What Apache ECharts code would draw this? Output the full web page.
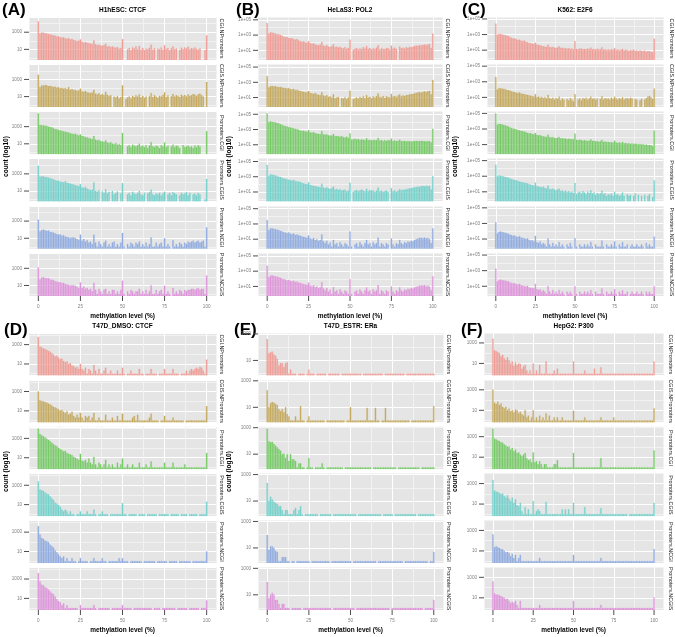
<!DOCTYPE html>
<html><head><meta charset="utf-8">
<script src="https://cdn.jsdelivr.net/npm/echarts@6/dist/echarts.min.js"></script>
<style>html,body{margin:0;padding:0;background:#fff}#c{width:675px;height:637px}</style>
</head><body><div id="c"></div>
<script>
// ---------- tick labels ----------
const xTickValues = [0, 25, 50, 75, 100];
const facetNames = ['CGI.NPromoters', 'CGIS.NPromoters', 'Promoters.CGI', 'Promoters.CGIS', 'Promoters.NCGI', 'Promoters.NCGIS'];
const panelTags = ['(A)', '(B)', '(C)', '(D)', '(E)', '(F)'];
const panelTitles = ['H1hESC: CTCF', 'HeLaS3: POL2', 'K562: E2F6', 'T47D_DMSO: CTCF', 'T47D_ESTR: ERa', 'HepG2: P300'];
const xTitle = 'methylation level (%)';
const yTitle = 'count (log10)';

// ---------- counts per methylation bin 0..100 ----------
const h1esc_CGI_NPromoters = [18000,
 700, 900, 850, 800, 650, 600, 550, 480, 420, 380,
 300, 330, 260, 220, 250, 180, 170, 200, 140, 160,
 120, 110, 90, 100, 140, 75, 60, 70, 55, 50,
 45, 40, 110, 38, 30, 35, 28, 26, 30, 45,
 20, 24, 18, 22, 16, 15, 18, 12, 14, 150,
 0, 0, 10, 14, 8, 16, 12, 22, 10, 25,
 9, 14, 8, 12, 10, 15, 35, 9, 13, 0,
 12, 10, 16, 9, 30, 11, 14, 8, 13, 22,
 10, 12, 0, 9, 15, 10, 17, 12, 20, 10,
 14, 12, 16, 11, 9, 13, 0, 0, 8, 400];
const h1esc_CGIS_NPromoters = [3500,
 120, 200, 180, 220, 190, 160, 170, 150, 130, 140,
 110, 120, 90, 100, 80, 95, 70, 120, 60, 75,
 55, 60, 45, 50, 80, 40, 35, 45, 30, 28,
 25, 30, 60, 22, 18, 25, 15, 20, 14, 35,
 16, 12, 14, 0, 10, 8, 12, 6, 9, 200,
 0, 5, 8, 10, 6, 12, 9, 14, 10, 18,
 8, 12, 7, 10, 0, 11, 25, 9, 14, 10,
 7, 12, 10, 15, 30, 9, 13, 0, 11, 20,
 10, 14, 12, 9, 16, 11, 15, 10, 18, 12,
 14, 20, 16, 12, 18, 22, 14, 10, 0, 500];
const h1esc_Promoters_CGI = [35000,
 1600, 1500, 1400, 1300, 1200, 1000, 900, 800, 650, 500,
 480, 400, 350, 320, 270, 250, 230, 200, 170, 150,
 130, 150, 110, 90, 120, 80, 70, 60, 55, 45,
 40, 35, 80, 30, 25, 28, 20, 18, 16, 25,
 14, 12, 15, 10, 9, 12, 8, 9, 7, 180,
 0, 0, 5, 7, 4, 8, 6, 5, 7, 10,
 5, 6, 4, 7, 3, 6, 15, 5, 4, 6,
 5, 3, 7, 5, 14, 4, 6, 0, 5, 8,
 4, 6, 5, 3, 0, 7, 4, 5, 6, 4,
 5, 3, 6, 4, 7, 5, 0, 0, 0, 300];
const h1esc_Promoters_CGIS = [9000,
 450, 500, 480, 420, 400, 350, 300, 260, 220, 180,
 150, 160, 120, 110, 100, 130, 90, 80, 70, 60,
 55, 45, 40, 35, 60, 25, 22, 30, 18, 15,
 12, 14, 100, 10, 8, 12, 0, 9, 6, 15,
 5, 8, 0, 10, 4, 6, 9, 0, 5, 80,
 0, 0, 4, 6, 3, 8, 5, 4, 6, 10,
 4, 3, 6, 0, 5, 7, 14, 4, 3, 5,
 4, 6, 3, 5, 8, 0, 4, 6, 3, 7,
 5, 4, 0, 3, 6, 4, 5, 7, 3, 6,
 0, 4, 5, 3, 6, 4, 0, 0, 1, 250];
const h1esc_Promoters_NCGI = [1400,
 60, 90, 100, 85, 70, 80, 55, 50, 45, 35,
 30, 25, 28, 20, 22, 15, 14, 12, 10, 12,
 12, 10, 8, 6, 25, 5, 8, 4, 6, 3,
 4, 2, 25, 3, 1, 4, 2, 1, 3, 5,
 1, 2, 1, 3, 4, 1, 2, 1, 3, 40,
 1, 0, 2, 1, 3, 2, 1, 3, 2, 4,
 1, 2, 1, 3, 1, 2, 12, 1, 1, 3,
 1, 2, 3, 1, 10, 1, 2, 1, 0, 6,
 1, 2, 1, 3, 2, 1, 3, 2, 4, 3,
 4, 5, 3, 4, 5, 3, 4, 5, 1, 180];
const h1esc_Promoters_NCGIS = [1200,
 50, 80, 90, 75, 65, 70, 50, 45, 40, 30,
 28, 22, 25, 18, 20, 14, 13, 11, 9, 11,
 10, 9, 7, 5, 22, 5, 7, 4, 5, 3,
 4, 2, 20, 3, 1, 4, 2, 1, 3, 4,
 1, 2, 1, 3, 3, 1, 2, 1, 3, 35,
 1, 0, 2, 1, 3, 2, 1, 2, 2, 4,
 1, 2, 1, 3, 1, 2, 10, 1, 1, 3,
 1, 2, 3, 1, 9, 1, 2, 1, 0, 5,
 1, 2, 1, 3, 2, 1, 3, 2, 3, 3,
 4, 4, 3, 4, 5, 3, 4, 4, 1, 140];

const helas3_CGI_NPromoters = [35000,
 1500, 2200, 2000, 1800, 1500, 1300, 1200, 1000, 800, 600,
 500, 550, 400, 350, 380, 280, 250, 300, 200, 150,
 130, 140, 110, 100, 160, 85, 70, 80, 60, 50,
 45, 55, 120, 40, 35, 45, 30, 28, 35, 60,
 25, 30, 22, 28, 20, 18, 25, 15, 20, 250,
 0, 12, 15, 20, 12, 18, 14, 25, 16, 35,
 15, 20, 12, 18, 14, 22, 45, 12, 18, 15,
 14, 18, 20, 12, 40, 16, 22, 15, 0, 30,
 18, 22, 16, 25, 20, 28, 24, 30, 35, 40,
 38, 45, 42, 50, 55, 48, 60, 65, 20, 1500];
const helas3_CGIS_NPromoters = [6000,
 200, 300, 320, 280, 300, 250, 230, 240, 200, 180,
 160, 150, 170, 120, 110, 130, 90, 100, 80, 70,
 60, 55, 45, 50, 70, 40, 35, 30, 40, 25,
 22, 20, 50, 18, 15, 20, 12, 14, 10, 25,
 8, 10, 12, 0, 9, 7, 11, 6, 10, 80,
 0, 6, 8, 10, 7, 12, 9, 14, 8, 20,
 10, 12, 8, 14, 10, 15, 35, 12, 10, 16,
 9, 14, 12, 10, 30, 13, 16, 11, 18, 25,
 14, 18, 16, 20, 22, 25, 28, 30, 35, 40,
 45, 50, 42, 55, 60, 50, 65, 70, 25, 2000];
const helas3_Promoters_CGI = [130000,
 9000, 11000, 10000, 9000, 8000, 7000, 6000, 5000, 4000, 3000,
 2600, 2400, 2000, 1800, 1600, 1400, 1200, 1100, 900, 700,
 650, 700, 550, 500, 800, 420, 380, 450, 320, 280,
 260, 240, 600, 220, 200, 230, 170, 160, 150, 250,
 130, 140, 120, 110, 130, 100, 90, 110, 80, 300,
 45, 50, 60, 45, 55, 40, 50, 45, 38, 70,
 40, 45, 35, 42, 38, 40, 80, 35, 40, 30,
 38, 32, 40, 35, 60, 30, 35, 28, 32, 45,
 30, 28, 32, 26, 30, 28, 25, 30, 28, 32,
 30, 28, 32, 30, 28, 26, 30, 28, 20, 1200];
const helas3_Promoters_CGIS = [35000,
 1200, 2000, 1800, 1600, 1400, 1200, 1000, 900, 700, 600,
 500, 450, 400, 350, 300, 380, 260, 240, 220, 200,
 150, 130, 110, 100, 180, 80, 70, 60, 55, 50,
 45, 40, 120, 35, 30, 40, 28, 25, 30, 50,
 20, 25, 18, 22, 15, 18, 20, 12, 15, 160,
 0, 10, 14, 18, 12, 16, 20, 14, 12, 25,
 12, 18, 14, 16, 10, 15, 35, 12, 14, 10,
 12, 15, 10, 0, 30, 12, 16, 10, 14, 22,
 16, 20, 18, 22, 25, 28, 30, 35, 40, 45,
 50, 45, 55, 60, 50, 65, 55, 60, 20, 1200];
const helas3_Promoters_NCGI = [3000,
 150, 250, 280, 220, 200, 180, 150, 120, 100, 80,
 70, 60, 75, 50, 45, 55, 35, 40, 30, 28,
 22, 20, 18, 15, 30, 12, 10, 14, 8, 10,
 6, 8, 40, 5, 3, 6, 2, 4, 1, 8,
 2, 3, 1, 4, 2, 1, 3, 2, 1, 100,
 1, 0, 2, 3, 1, 4, 2, 1, 3, 8,
 2, 3, 1, 4, 2, 3, 15, 1, 3, 2,
 1, 3, 2, 0, 12, 2, 1, 3, 2, 8,
 3, 2, 4, 3, 5, 4, 6, 5, 8, 10,
 12, 14, 15, 13, 16, 12, 14, 10, 3, 250];
const helas3_Promoters_NCGIS = [5000,
 150, 250, 280, 230, 200, 180, 150, 130, 100, 85,
 75, 60, 70, 50, 45, 55, 38, 40, 30, 28,
 24, 20, 18, 15, 30, 12, 10, 14, 8, 10,
 6, 8, 35, 5, 3, 6, 2, 4, 1, 8,
 2, 3, 1, 4, 2, 1, 3, 2, 1, 90,
 1, 0, 2, 3, 1, 4, 2, 1, 3, 7,
 2, 3, 1, 4, 2, 3, 14, 1, 3, 2,
 1, 3, 2, 0, 10, 2, 1, 3, 2, 7,
 3, 2, 4, 3, 5, 4, 6, 5, 7, 9,
 10, 12, 13, 12, 14, 10, 12, 9, 3, 200];

const k562_CGI_NPromoters = [25000,
 900, 1200, 1100, 1000, 900, 800, 700, 600, 450, 350,
 300, 320, 250, 200, 220, 160, 140, 170, 110, 100,
 80, 75, 65, 60, 90, 50, 45, 40, 35, 30,
 28, 25, 50, 24, 22, 25, 20, 18, 22, 30,
 18, 20, 16, 18, 15, 17, 14, 16, 12, 140,
 14, 12, 16, 15, 13, 14, 12, 16, 13, 20,
 12, 14, 11, 15, 12, 13, 22, 11, 12, 10,
 12, 10, 13, 11, 18, 10, 12, 9, 11, 14,
 9, 11, 10, 8, 10, 9, 11, 8, 9, 7,
 9, 8, 7, 9, 6, 8, 7, 6, 5, 280];
const k562_CGIS_NPromoters = [4000,
 100, 150, 140, 130, 120, 110, 90, 80, 70, 55,
 50, 45, 40, 35, 42, 30, 28, 25, 22, 20,
 18, 16, 14, 12, 25, 10, 12, 9, 11, 8,
 10, 7, 20, 8, 6, 9, 5, 8, 6, 12,
 4, 7, 5, 0, 6, 4, 8, 5, 3, 25,
 0, 5, 7, 4, 8, 6, 9, 5, 7, 12,
 6, 8, 5, 7, 0, 6, 14, 5, 8, 6,
 7, 5, 9, 6, 12, 7, 5, 8, 6, 10,
 5, 7, 8, 6, 9, 7, 0, 6, 5, 0,
 4, 6, 0, 5, 8, 12, 15, 10, 6, 130];
const k562_Promoters_CGI = [100000,
 3500, 4500, 4000, 3800, 3200, 2800, 2400, 2000, 1600, 1200,
 1100, 1000, 850, 750, 650, 550, 500, 450, 380, 300,
 260, 280, 220, 200, 300, 170, 150, 160, 130, 110,
 100, 95, 180, 85, 80, 90, 70, 65, 75, 90,
 60, 65, 55, 60, 50, 55, 48, 52, 45, 250,
 40, 35, 42, 38, 30, 35, 32, 28, 30, 45,
 28, 30, 25, 28, 22, 26, 40, 22, 24, 20,
 22, 18, 20, 17, 30, 18, 16, 19, 15, 22,
 14, 16, 13, 15, 12, 14, 11, 13, 12, 10,
 12, 10, 11, 9, 10, 8, 9, 8, 6, 600];
const k562_Promoters_CGIS = [28000,
 900, 1200, 1100, 1000, 900, 800, 700, 600, 500, 400,
 350, 320, 280, 240, 200, 180, 160, 140, 130, 120,
 90, 80, 70, 60, 150, 50, 45, 40, 35, 45,
 30, 25, 60, 22, 20, 25, 18, 15, 20, 25,
 12, 15, 10, 14, 9, 12, 8, 10, 7, 130,
 5, 8, 10, 6, 12, 8, 5, 10, 7, 15,
 6, 8, 4, 7, 5, 6, 14, 5, 6, 3,
 5, 4, 6, 3, 10, 4, 5, 3, 4, 8,
 3, 0, 5, 3, 4, 0, 3, 6, 0, 4,
 0, 3, 0, 4, 0, 3, 5, 0, 2, 280];
const k562_Promoters_NCGI = [1300,
 50, 80, 90, 75, 70, 60, 55, 45, 35, 30,
 25, 28, 20, 18, 22, 15, 14, 12, 10, 12,
 8, 6, 7, 5, 25, 4, 3, 5, 2, 3,
 2, 1, 12, 2, 1, 3, 1, 2, 1, 4,
 1, 2, 1, 0, 2, 1, 3, 1, 0, 13,
 1, 0, 2, 1, 1, 2, 1, 2, 1, 4,
 1, 0, 2, 1, 1, 1, 6, 1, 0, 2,
 1, 1, 2, 1, 5, 1, 0, 2, 1, 4,
 1, 1, 2, 0, 1, 2, 1, 1, 2, 1,
 1, 2, 1, 0, 3, 1, 2, 1, 1, 20];
const k562_Promoters_NCGIS = [1800,
 40, 60, 70, 60, 55, 50, 45, 40, 30, 25,
 22, 25, 18, 16, 20, 13, 12, 10, 9, 11,
 7, 6, 6, 5, 20, 4, 3, 4, 2, 3,
 2, 1, 10, 2, 1, 3, 1, 2, 1, 3,
 1, 2, 1, 0, 2, 1, 2, 1, 0, 10,
 1, 0, 2, 1, 1, 2, 1, 2, 1, 3,
 1, 0, 2, 1, 1, 1, 5, 1, 0, 2,
 1, 1, 2, 1, 4, 1, 0, 2, 1, 3,
 1, 1, 2, 0, 1, 2, 1, 1, 2, 1,
 1, 2, 1, 0, 2, 1, 2, 1, 1, 10];

const t47dDmso_CGI_NPromoters = [5600,
 600, 500, 400, 350, 280, 220, 180, 130, 90, 60,
 70, 45, 30, 35, 20, 15, 18, 10, 12, 7,
 6, 4, 5, 3, 10, 3, 2, 4, 1, 3,
 2, 1, 8, 2, 1, 3, 1, 1, 2, 4,
 1, 1, 2, 1, 1, 1, 2, 1, 1, 4,
 1, 0, 1, 1, 2, 1, 1, 1, 1, 3,
 1, 1, 0, 1, 1, 1, 3, 1, 1, 1,
 0, 1, 1, 1, 3, 1, 1, 1, 1, 3,
 1, 1, 1, 0, 1, 1, 1, 2, 1, 2,
 3, 2, 3, 4, 3, 5, 4, 2, 1, 28];
const t47dDmso_CGIS_NPromoters = [1000,
 120, 100, 90, 80, 70, 55, 45, 35, 25, 22,
 18, 14, 10, 12, 8, 6, 9, 4, 5, 8,
 3, 2, 4, 2, 6, 2, 1, 3, 2, 3,
 1, 2, 6, 1, 1, 2, 1, 1, 1, 4,
 1, 1, 1, 2, 1, 1, 3, 1, 1, 5,
 1, 1, 1, 1, 1, 2, 3, 1, 4, 1,
 1, 1, 1, 1, 1, 2, 5, 1, 1, 1,
 1, 0, 1, 1, 3, 1, 1, 1, 1, 2,
 1, 1, 1, 1, 1, 1, 0, 1, 1, 1,
 1, 1, 1, 1, 1, 1, 1, 1, 1, 30];
const t47dDmso_Promoters_CGI = [10000,
 2800, 2000, 1600, 1200, 900, 700, 500, 350, 250, 180,
 150, 100, 80, 60, 45, 50, 30, 25, 22, 18,
 12, 10, 8, 6, 25, 5, 4, 6, 3, 8,
 3, 2, 12, 2, 1, 3, 2, 1, 2, 6,
 1, 2, 1, 2, 1, 1, 3, 1, 2, 8,
 1, 1, 2, 1, 1, 2, 1, 1, 1, 3,
 1, 1, 1, 2, 1, 1, 4, 1, 1, 1,
 1, 1, 1, 1, 3, 1, 1, 1, 1, 3,
 1, 1, 1, 1, 1, 1, 2, 1, 1, 1,
 1, 1, 1, 1, 1, 1, 1, 1, 1, 30];
const t47dDmso_Promoters_CGIS = [2500,
 350, 300, 250, 180, 130, 110, 70, 45, 30, 16,
 12, 9, 6, 3, 2, 3, 2, 1, 2, 1,
 1, 0, 1, 1, 2, 1, 1, 1, 2, 1,
 1, 1, 3, 1, 0, 1, 1, 2, 1, 1,
 1, 0, 1, 1, 1, 1, 1, 1, 1, 14,
 1, 1, 0, 1, 1, 1, 1, 1, 0, 1,
 1, 1, 1, 0, 1, 1, 1, 1, 1, 1,
 0, 1, 1, 1, 1, 1, 1, 0, 1, 1,
 1, 1, 1, 0, 1, 1, 1, 1, 0, 1,
 1, 1, 1, 1, 0, 1, 1, 1, 1, 20];
const t47dDmso_Promoters_NCGI = [4000,
 550, 250, 200, 130, 110, 90, 50, 35, 25, 13,
 8, 5, 3, 2, 3, 1, 2, 1, 1, 2,
 1, 1, 0, 1, 2, 1, 1, 1, 1, 0,
 1, 1, 2, 1, 1, 1, 1, 2, 1, 1,
 0, 1, 1, 1, 1, 1, 1, 2, 1, 2,
 1, 1, 1, 0, 1, 1, 1, 1, 1, 1,
 1, 0, 1, 1, 1, 1, 1, 1, 1, 0,
 1, 1, 1, 1, 1, 1, 0, 1, 1, 1,
 1, 1, 0, 1, 1, 1, 1, 1, 1, 1,
 0, 1, 1, 1, 1, 1, 1, 1, 1, 10];
const t47dDmso_Promoters_NCGIS = [4000,
 550, 250, 220, 140, 110, 80, 50, 35, 25, 15,
 8, 5, 4, 2, 3, 1, 2, 1, 1, 1,
 1, 1, 1, 0, 2, 1, 1, 1, 1, 1,
 1, 1, 2, 1, 0, 1, 1, 1, 1, 1,
 1, 1, 0, 1, 1, 1, 1, 1, 1, 2,
 1, 1, 1, 1, 1, 0, 1, 1, 1, 1,
 1, 1, 1, 1, 1, 1, 1, 0, 1, 1,
 1, 1, 0, 1, 1, 1, 1, 1, 1, 1,
 1, 0, 1, 1, 1, 1, 1, 1, 0, 1,
 1, 1, 1, 1, 1, 0, 1, 1, 1, 6];

const t47dEstr_CGI_NPromoters = [400,
 33, 40, 45, 28, 22, 13, 4, 6, 6, 3,
 6, 7, 1, 2, 1, 1, 1, 0, 1, 1,
 1, 1, 0, 1, 2, 1, 1, 1, 0, 1,
 1, 1, 1, 1, 1, 0, 1, 1, 1, 1,
 1, 1, 1, 0, 1, 1, 1, 1, 1, 1,
 1, 1, 1, 1, 1, 1, 0, 1, 1, 1,
 1, 1, 1, 1, 1, 1, 1, 1, 1, 0,
 1, 1, 1, 1, 1, 1, 1, 1, 1, 1,
 1, 1, 0, 1, 1, 1, 1, 1, 1, 1,
 1, 1, 1, 1, 1, 1, 1, 1, 1, 1];
const t47dEstr_CGIS_NPromoters = [190,
 10, 20, 25, 22, 18, 14, 7, 5, 7, 4,
 10, 3, 2, 1, 1, 1, 2, 1, 1, 12,
 1, 1, 0, 1, 2, 1, 1, 1, 1, 1,
 1, 1, 1, 1, 0, 1, 1, 1, 1, 1,
 1, 1, 1, 1, 1, 1, 0, 1, 1, 10,
 1, 1, 1, 1, 1, 1, 1, 1, 1, 9,
 1, 1, 1, 1, 9, 1, 1, 0, 1, 1,
 9, 1, 1, 1, 1, 1, 1, 1, 1, 1,
 1, 1, 1, 1, 1, 0, 1, 1, 1, 1,
 1, 1, 1, 1, 1, 1, 1, 1, 1, 12];
const t47dEstr_Promoters_CGI = [840,
 93, 80, 85, 59, 44, 32, 24, 18, 10, 11,
 5, 10, 3, 10, 4, 4, 3, 1, 2, 2,
 1, 1, 0, 1, 5, 1, 1, 0, 1, 1,
 1, 1, 2, 1, 0, 1, 1, 1, 1, 1,
 1, 1, 1, 1, 1, 0, 1, 1, 1, 1,
 1, 1, 1, 1, 1, 1, 1, 1, 1, 1,
 1, 1, 0, 1, 1, 1, 1, 1, 1, 1,
 1, 1, 1, 1, 1, 1, 1, 0, 1, 1,
 1, 1, 1, 1, 1, 1, 1, 1, 1, 1,
 1, 0, 1, 1, 1, 1, 1, 1, 1, 1];
const t47dEstr_Promoters_CGIS = [230,
 10, 21, 13, 9, 7, 6, 4, 4, 2, 1,
 2, 2, 1, 1, 1, 2, 3, 1, 2, 4,
 1, 0, 1, 1, 1, 1, 1, 1, 1, 1,
 0, 1, 1, 1, 1, 1, 1, 1, 0, 1,
 1, 1, 1, 1, 1, 1, 1, 1, 1, 1,
 1, 1, 1, 0, 1, 1, 1, 1, 1, 1,
 1, 1, 1, 1, 1, 1, 1, 1, 0, 1,
 1, 1, 1, 1, 1, 0, 1, 1, 1, 1,
 1, 1, 1, 1, 1, 1, 1, 1, 1, 0,
 1, 1, 1, 1, 1, 1, 1, 1, 1, 1];
const t47dEstr_Promoters_NCGI = [93,
 7, 13, 13, 10, 6, 5, 1, 1, 2, 2,
 2, 1, 1, 0, 1, 1, 0, 1, 1, 1,
 1, 1, 1, 1, 1, 0, 1, 1, 1, 1,
 1, 1, 1, 1, 1, 1, 1, 0, 1, 1,
 1, 1, 1, 1, 1, 1, 1, 1, 1, 1,
 0, 1, 1, 1, 1, 1, 1, 1, 1, 1,
 1, 1, 1, 1, 1, 0, 1, 1, 1, 1,
 1, 1, 1, 1, 1, 1, 1, 1, 1, 1,
 1, 0, 1, 1, 1, 1, 1, 1, 1, 1,
 1, 1, 1, 1, 1, 1, 0, 1, 1, 5];
const t47dEstr_Promoters_NCGIS = [93,
 5, 10, 14, 10, 4, 4, 2, 1, 2, 2,
 1, 1, 1, 0, 1, 1, 1, 1, 1, 1,
 0, 1, 1, 1, 1, 1, 1, 1, 1, 1,
 1, 1, 1, 1, 1, 1, 1, 1, 0, 1,
 1, 1, 1, 1, 1, 1, 1, 1, 1, 1,
 1, 1, 0, 1, 1, 1, 1, 1, 1, 1,
 1, 1, 1, 1, 1, 1, 1, 1, 1, 1,
 1, 1, 1, 0, 1, 1, 1, 1, 1, 1,
 1, 1, 1, 1, 1, 1, 1, 1, 1, 1,
 1, 1, 1, 0, 1, 1, 1, 1, 1, 4];

const hepg2_CGI_NPromoters = [2500,
 185, 150, 125, 100, 46, 68, 32, 21, 37, 20,
 10, 15, 6, 12, 7, 10, 9, 3, 5, 7,
 2, 1, 2, 1, 10, 1, 2, 1, 7, 1,
 1, 1, 15, 1, 1, 1, 1, 2, 1, 3,
 1, 1, 1, 1, 1, 1, 1, 1, 1, 15,
 1, 1, 1, 1, 1, 1, 2, 1, 1, 1,
 1, 1, 3, 1, 1, 1, 4, 1, 1, 1,
 1, 1, 1, 1, 1, 1, 1, 1, 1, 1,
 1, 1, 1, 1, 1, 1, 1, 1, 1, 1,
 1, 1, 1, 1, 1, 1, 1, 1, 1, 15];
const hepg2_CGIS_NPromoters = [1000,
 54, 40, 68, 32, 46, 21, 15, 21, 10, 14,
 8, 10, 6, 11, 10, 5, 7, 4, 3, 10,
 2, 3, 1, 2, 10, 1, 2, 1, 3, 1,
 2, 1, 5, 1, 3, 1, 1, 2, 1, 2,
 1, 1, 2, 1, 1, 1, 1, 1, 1, 9,
 1, 1, 1, 1, 1, 1, 2, 1, 1, 1,
 1, 1, 1, 1, 1, 1, 2, 1, 1, 1,
 1, 1, 1, 1, 2, 1, 1, 1, 1, 1,
 1, 1, 1, 1, 1, 1, 1, 1, 1, 1,
 1, 1, 1, 1, 1, 1, 1, 1, 1, 15];
const hepg2_Promoters_CGI = [6000,
 630, 540, 430, 370, 290, 250, 170, 135, 100, 110,
 54, 80, 37, 54, 25, 28, 17, 12, 17, 25,
 8, 5, 6, 3, 29, 3, 4, 2, 4, 2,
 1, 2, 2, 1, 1, 1, 1, 2, 2, 5,
 1, 1, 1, 1, 1, 1, 1, 1, 1, 25,
 1, 1, 1, 1, 1, 1, 1, 1, 1, 1,
 1, 1, 1, 1, 1, 1, 8, 1, 1, 1,
 1, 1, 1, 1, 1, 1, 1, 1, 1, 1,
 1, 1, 1, 1, 1, 1, 1, 1, 1, 1,
 1, 1, 1, 1, 1, 1, 1, 1, 1, 46];
const hepg2_Promoters_CGIS = [2200,
 200, 160, 140, 117, 93, 100, 62, 42, 70, 33,
 19, 42, 13, 28, 8, 6, 13, 2, 1, 5,
 1, 3, 1, 1, 19, 1, 2, 3, 2, 1,
 1, 1, 16, 1, 1, 1, 1, 1, 1, 1,
 1, 1, 3, 1, 3, 1, 3, 1, 1, 13,
 1, 1, 1, 1, 1, 1, 5, 1, 1, 1,
 1, 1, 1, 1, 1, 1, 4, 1, 1, 1,
 1, 1, 1, 1, 1, 1, 1, 1, 1, 1,
 1, 1, 1, 0, 1, 1, 1, 1, 1, 1,
 1, 1, 1, 1, 1, 1, 1, 1, 1, 13];
const hepg2_Promoters_NCGI = [400,
 22, 28, 22, 19, 15, 14, 10, 7, 8, 6,
 3, 5, 2, 4, 1, 2, 4, 1, 1, 1,
 1, 1, 1, 1, 1, 1, 1, 1, 2, 1,
 1, 1, 1, 1, 1, 1, 1, 1, 1, 1,
 1, 1, 1, 1, 1, 1, 1, 1, 1, 4,
 1, 1, 1, 1, 1, 1, 1, 1, 1, 1,
 1, 1, 1, 1, 1, 1, 2, 1, 1, 1,
 1, 1, 1, 1, 1, 1, 1, 1, 1, 1,
 1, 1, 1, 1, 1, 1, 1, 1, 1, 1,
 1, 1, 1, 1, 1, 1, 1, 1, 1, 15];
const hepg2_Promoters_NCGIS = [400,
 26, 20, 20, 17, 15, 12, 10, 7, 8, 5,
 3, 4, 3, 5, 2, 1, 5, 1, 1, 1,
 1, 1, 1, 1, 1, 1, 1, 1, 2, 1,
 1, 1, 1, 1, 1, 1, 1, 1, 1, 1,
 1, 1, 1, 1, 1, 1, 1, 1, 1, 5,
 1, 1, 1, 1, 1, 1, 1, 1, 1, 1,
 1, 1, 1, 1, 1, 1, 2, 1, 1, 1,
 1, 1, 1, 1, 1, 1, 1, 1, 1, 1,
 1, 1, 1, 1, 1, 1, 1, 1, 1, 1,
 1, 1, 1, 1, 1, 1, 1, 1, 1, 11];

const panelData = [
  [h1esc_CGI_NPromoters, h1esc_CGIS_NPromoters, h1esc_Promoters_CGI, h1esc_Promoters_CGIS, h1esc_Promoters_NCGI, h1esc_Promoters_NCGIS],
  [helas3_CGI_NPromoters, helas3_CGIS_NPromoters, helas3_Promoters_CGI, helas3_Promoters_CGIS, helas3_Promoters_NCGI, helas3_Promoters_NCGIS],
  [k562_CGI_NPromoters, k562_CGIS_NPromoters, k562_Promoters_CGI, k562_Promoters_CGIS, k562_Promoters_NCGI, k562_Promoters_NCGIS],
  [t47dDmso_CGI_NPromoters, t47dDmso_CGIS_NPromoters, t47dDmso_Promoters_CGI, t47dDmso_Promoters_CGIS, t47dDmso_Promoters_NCGI, t47dDmso_Promoters_NCGIS],
  [t47dEstr_CGI_NPromoters, t47dEstr_CGIS_NPromoters, t47dEstr_Promoters_CGI, t47dEstr_Promoters_CGIS, t47dEstr_Promoters_NCGI, t47dEstr_Promoters_NCGIS],
  [hepg2_CGI_NPromoters, hepg2_CGIS_NPromoters, hepg2_Promoters_CGI, hepg2_Promoters_CGIS, hepg2_Promoters_NCGI, hepg2_Promoters_NCGIS]
];
const panelSciLabels = [false, true, true, false, false, false];

// ---------- styling / layout ----------
const FONT = '"Liberation Sans", Arial, Helvetica, sans-serif';
const facetFill = ['#F3A49E', '#CBB06A', '#7ECF6E', '#80D6D0', '#98B1E2', '#E29FDF'];
const facetEdge = ['#E8837B', '#B39538', '#5CBE4C', '#4CC3BB', '#7599DB', '#D877D3'];
const PANEL_BG = '#E5E5E5';
const layout = [
  {x0: 29,  x1: 216, y0: 17,  pitch: 47.22, h: 42.9, tagX: 2,   tagY: 10,  titleY: 10.5, xTitleY: 316, yTitleX: 6,   stripX: 221},
  {x0: 258, x1: 442, y0: 17,  pitch: 47.22, h: 42.9, tagX: 236, tagY: 10,  titleY: 10.5, xTitleY: 316, yTitleX: 229, stripX: 447},
  {x0: 487, x1: 663, y0: 17,  pitch: 47.22, h: 42.9, tagX: 462, tagY: 10,  titleY: 10.5, xTitleY: 316, yTitleX: 455, stripX: 671},
  {x0: 29,  x1: 216, y0: 333, pitch: 46.88, h: 42.6, tagX: 4,   tagY: 330, titleY: 326,  xTitleY: 630, yTitleX: 6,   stripX: 221},
  {x0: 258, x1: 443, y0: 333, pitch: 46.88, h: 42.6, tagX: 234, tagY: 330, titleY: 326,  xTitleY: 630, yTitleX: 229, stripX: 448},
  {x0: 484, x1: 663, y0: 333, pitch: 46.88, h: 42.6, tagX: 461, tagY: 330, titleY: 326,  xTitleY: 630, yTitleX: 455, stripX: 670}
];

const grids = [], xAxes = [], yAxes = [], series = [], graphics = [];

function yLabel(sci) {
  return function (v) {
    const e = Math.log10(v);
    const r = Math.round(e);
    if (!isFinite(e) || Math.abs(e - r) > 1e-6 || r < 1 || r % 2 === 0) return '';
    const txt = sci ? ('1e+' + (r < 10 ? '0' : '') + r) : String(Math.pow(10, r));
    return '{t|' + txt + '}{k|}';
  };
}
function xLabel(v) {
  if (xTickValues.indexOf(v) < 0) return '';
  return '{k|}\n{t|' + v + '}';
}

panelData.forEach(function (facets, p) {
  const L = layout[p];
  let mx = 1;
  facets.forEach(function (arr) { arr.forEach(function (c) { if (c > mx) mx = c; }); });
  const lm = Math.log10(mx);
  const yMin = Math.pow(10, -0.05 * lm), yMax = Math.pow(10, 1.05 * lm);

  facets.forEach(function (counts, f) {
    const gi = grids.length;
    const top = L.y0 + f * L.pitch;
    const isBottom = f === facets.length - 1;
    grids.push({left: L.x0, top: top, width: L.x1 - L.x0, height: L.h, show: true,
      backgroundColor: PANEL_BG, borderWidth: 0, borderColor: 'transparent', containLabel: false, outerBoundsMode: 'none'});
    xAxes.push({type: 'value', gridIndex: gi, min: -5.55, max: 105.55, minInterval: 12.5, maxInterval: 12.5,
      axisLine: {show: false}, axisTick: {show: false},
      splitLine: {show: true, lineStyle: {color: ['#F2F2F2', '#FFFFFF'], width: 1}},
      axisLabel: {show: isBottom, margin: 0, formatter: xLabel, color: '#7F7F7F', fontFamily: FONT,
        showMinLabel: true, showMaxLabel: true, hideOverlap: false,
        rich: {k: {width: 1, height: 5, lineHeight: 5, backgroundColor: '#4D4D4D'},
               t: {fontSize: 4.6, lineHeight: 6, color: '#7F7F7F', fontFamily: FONT, padding: [4.5, 0, 0, 0]}}}
    });
    yAxes.push({type: 'log', logBase: 10, gridIndex: gi, min: yMin, max: yMax,
      axisLine: {show: false}, axisTick: {show: false},
      splitLine: {show: true, lineStyle: {color: ['#FFFFFF', '#F2F2F2'], width: 1}},
      axisLabel: {show: true, margin: 0, formatter: yLabel(panelSciLabels[p]), hideOverlap: false,
        rich: {t: {fontSize: 4.6, color: '#7F7F7F', fontFamily: FONT, padding: [0, 2, 0, 0]},
               k: {width: 5, height: 1, backgroundColor: '#4D4D4D'}}}
    });
    const fill = facetFill[f], edge = facetEdge[f];
    series.push({
      type: 'custom', coordinateSystem: 'cartesian2d', xAxisIndex: gi, yAxisIndex: gi,
      silent: true, animation: false, clip: true,
      encode: {x: 0, y: 1},
      data: counts.map(function (c, i) { return [i, c > 0 ? c : '-']; }),
      renderItem: function (params, api) {
        const c = api.value(1);
        if (!(c >= 1)) return null;
        const x = api.value(0);
        const pl = api.coord([x - 0.5, c]);
        const pr = api.coord([x + 0.5, c]);
        const cs = params.coordSys;
        const bottom = cs.y + cs.height;
        const w = pr[0] - pl[0];
        return {type: 'rect', shape: {x: pl[0] + w * 0.15, y: pl[1], width: w * 0.7, height: bottom - pl[1]},
          style: {fill: fill, stroke: edge, lineWidth: 0.2}};
      }
    });
    graphics.push({type: 'text', x: L.stripX, y: top + L.h / 2, rotation: -Math.PI / 2, silent: true,
      style: {text: facetNames[f], fontSize: 5.4, fontFamily: FONT, fill: '#1A1A1A',
        align: 'center', verticalAlign: 'middle', textAlign: 'center', textVerticalAlign: 'middle'}});
  });

  const cx = (L.x0 + L.x1) / 2;
  const yEnd = L.y0 + 5 * L.pitch + L.h;
  graphics.push({type: 'text', x: L.tagX, y: L.tagY, silent: true,
    style: {text: panelTags[p], fontSize: 17, fontWeight: 'bold', fontFamily: FONT, fill: '#000',
      align: 'left', verticalAlign: 'middle', textAlign: 'left', textVerticalAlign: 'middle'}});
  graphics.push({type: 'text', x: cx, y: L.titleY, silent: true,
    style: {text: panelTitles[p], fontSize: 6.5, fontWeight: 'bold', fontFamily: FONT, fill: '#000',
      align: 'center', verticalAlign: 'middle', textAlign: 'center', textVerticalAlign: 'middle'}});
  graphics.push({type: 'text', x: cx, y: L.xTitleY, silent: true,
    style: {text: xTitle, fontSize: 6.5, fontWeight: 'bold', fontFamily: FONT, fill: '#000',
      align: 'center', verticalAlign: 'middle', textAlign: 'center', textVerticalAlign: 'middle'}});
  graphics.push({type: 'text', x: L.yTitleX, y: (L.y0 + yEnd) / 2, rotation: Math.PI / 2, silent: true,
    style: {text: yTitle, fontSize: 6.5, fontWeight: 'bold', fontFamily: FONT, fill: '#000',
      align: 'center', verticalAlign: 'middle', textAlign: 'center', textVerticalAlign: 'middle'}});
});

const chart = echarts.init(document.getElementById('c'), null, {renderer: 'canvas', width: 675, height: 637});
chart.setOption({
  animation: false,
  backgroundColor: '#FFFFFF',
  grid: grids, xAxis: xAxes, yAxis: yAxes, series: series,
  graphic: {elements: graphics}
});
</script></body></html>
